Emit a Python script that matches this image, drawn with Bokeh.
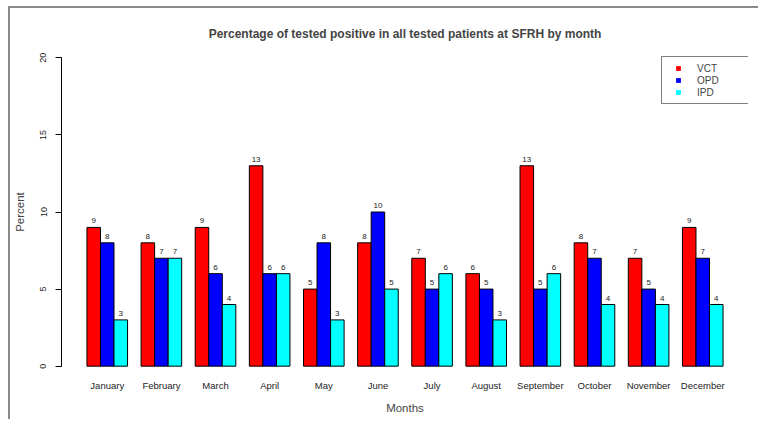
from bokeh.plotting import figure
from bokeh.models import ColumnDataSource, FixedTicker, Legend, LegendItem, Range1d
from bokeh.embed import file_html
from bokeh.resources import INLINE
from bokeh.core.properties import value

months = ["January", "February", "March", "April", "May", "June", "July",
          "August", "September", "October", "November", "December"]
vct = [9, 8, 9, 13, 5, 8, 7, 6, 13, 8, 7, 9]
opd = [8, 7, 6, 6, 8, 10, 5, 5, 5, 7, 5, 7]
ipd = [3, 7, 4, 6, 3, 5, 6, 3, 6, 4, 4, 4]
series_names = ["VCT", "OPD", "IPD"]
series_colors = ["#FF0000", "#0000FF", "#00FFFF"]
y_ticks = [0, 5, 10, 15, 20]

FONT = "Liberation Sans"
n = len(months)
group_centers = [4 * i + 2.5 for i in range(n)]

p = figure(width=750, height=413, output_backend="svg", toolbar_location=None,
           x_range=Range1d(-0.88, 49.88), y_range=Range1d(-0.8, 20.8),
           min_border_left=46, min_border_right=12, min_border_top=37,
           min_border_bottom=43,
           title="Percentage of tested positive in all tested patients at SFRH by month")
p.styles = {"border-left": "2px solid #8a8a8a", "border-top": "2px solid #8a8a8a",
            "margin-left": "8px", "margin-top": "6px"}
p.outline_line_color = None
p.xgrid.visible = False
p.ygrid.visible = False
p.background_fill_color = "white"
p.border_fill_color = "white"

p.title.text_font = FONT
p.title.text_font_size = "12px"
p.title.text_font_style = "bold"
p.title.align = "center"
p.title.standoff = 9

legend_items = []
for k, (name, vals, col) in enumerate(zip(series_names, [vct, opd, ipd], series_colors)):
    xs = [4 * i + 1.5 + k for i in range(n)]
    src = ColumnDataSource(dict(x=xs, top=vals, lab=[str(v) for v in vals]))
    p.vbar(x="x", top="top", bottom=0, width=1, source=src, fill_color=col,
           line_color="black", line_width=1)
    p.text(x="x", y="top", text="lab", source=src, text_align="center",
           text_baseline="bottom", y_offset=-4, text_font_size="8px",
           text_font=value(FONT), text_color="#222222")
    r = p.scatter(x=[float("nan")], y=[float("nan")], marker="square",
                  fill_color=col, line_color=None, size=6)
    legend_items.append(LegendItem(label=name, renderers=[r]))

legend = Legend(items=legend_items, location=(600, 274), padding=5, spacing=0,
                glyph_width=22, glyph_height=12, label_height=12,
                label_standoff=8, label_width=47,
                label_text_font=FONT, label_text_font_size="10px",
                border_line_color="black", border_line_width=1,
                background_fill_color="white", background_fill_alpha=1.0, margin=0)
p.add_layout(legend)

# y axis
ya = p.yaxis[0]
ya.ticker = FixedTicker(ticks=y_ticks)
ya.bounds = (0, 20)
ya.major_tick_in = 0
ya.major_tick_out = 6
ya.minor_tick_line_color = None
ya.major_label_orientation = "vertical"
ya.major_label_text_font = FONT
ya.major_label_text_font_size = "9px"
ya.major_label_text_color = "#222222"
ya.major_label_standoff = 9
ya.axis_label = "Percent"
ya.axis_label_text_font = FONT
ya.axis_label_text_font_size = "11.5px"
ya.axis_label_text_font_style = "normal"
ya.axis_label_standoff = 12
ya.axis_line_color = "black"

# x axis
xa = p.xaxis[0]
xa.ticker = FixedTicker(ticks=group_centers)
xa.major_label_overrides = {c: m for c, m in zip(group_centers, months)}
xa.axis_line_color = None
xa.major_tick_line_color = None
xa.minor_tick_line_color = None
xa.major_tick_in = 0
xa.major_tick_out = 0
xa.major_label_standoff = 1
xa.major_label_text_font = FONT
xa.major_label_text_font_size = "9.5px"
xa.major_label_text_color = "#222222"
xa.axis_label = "Months"
xa.axis_label_text_font = FONT
xa.axis_label_text_font_size = "11.5px"
xa.axis_label_text_font_style = "normal"
xa.axis_label_standoff = 8

open("out.html", "w").write(file_html(p, INLINE))
